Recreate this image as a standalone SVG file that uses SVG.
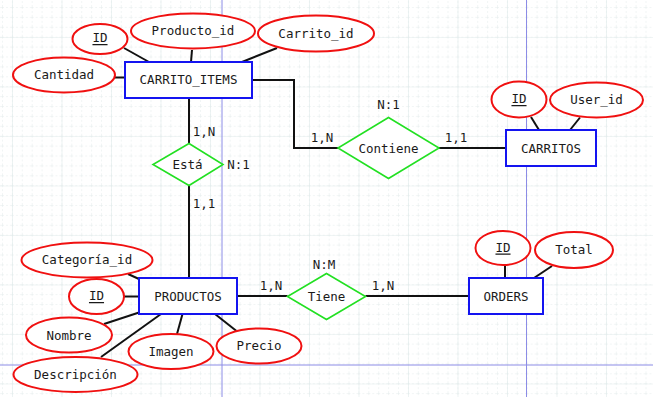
<svg xmlns="http://www.w3.org/2000/svg" width="653" height="397" viewBox="0 0 653 397">
  <defs>
    <pattern id="minor" x="2" y="7" width="9.9" height="9.9" patternUnits="userSpaceOnUse">
      <path d="M0 0V9.9M0 0H9.9" fill="none" stroke="#e4ecec" stroke-width="1" stroke-dasharray="2 2"/>
    </pattern>
    <pattern id="major" x="12" y="37" width="49.5" height="49.5" patternUnits="userSpaceOnUse">
      <path d="M0 0V49.5M0 0H49.5" fill="none" stroke="#e2ecec" stroke-width="1.2"/>
    </pattern>
  </defs>
  <style>
    text { font-family: "DejaVu Sans Mono", "Liberation Mono", monospace; font-size: 12.5px; fill: #1a1a1a; text-anchor: middle; dominant-baseline: central; }
    .ent { fill: #ffffff; stroke: #1414f0; stroke-width: 2; }
    .att { fill: #ffffff; stroke: #f01010; stroke-width: 2; }
    .rel { fill: #ffffff; stroke: #22e022; stroke-width: 1.6; }
    .edge { fill: none; stroke: #111111; stroke-width: 2; }
    .key { text-decoration: underline; }
    .page { stroke: #8c8ce6; stroke-width: 1; }
  </style>

  <!-- canvas grid -->
  <rect width="653" height="397" fill="#ffffff"/>
  <rect width="653" height="397" fill="url(#minor)"/>
  <rect width="653" height="397" fill="url(#major)"/>
  <line class="page" x1="222" y1="0" x2="222" y2="397"/>
  <line class="page" x1="526.5" y1="0" x2="526.5" y2="397"/>
  <line class="page" x1="0" y1="365" x2="653" y2="365"/>

  <!-- connectors -->
  <g id="connectors">
    <line class="edge" x1="124" y1="48" x2="149" y2="62"/>
    <line class="edge" x1="192" y1="50" x2="191" y2="62"/>
    <line class="edge" x1="277" y1="48" x2="242" y2="62"/>
    <line class="edge" x1="115" y1="77.5" x2="125" y2="77.5"/>
    <polyline class="edge" points="252,80 294,80 294,148 338,148"/>
    <line class="edge" x1="189" y1="98" x2="189" y2="143.5"/>
    <line class="edge" x1="189" y1="185.5" x2="189" y2="278"/>
    <line class="edge" x1="439" y1="148" x2="506" y2="148"/>
    <line class="edge" x1="531" y1="117" x2="539" y2="130"/>
    <line class="edge" x1="580" y1="117.5" x2="570" y2="130"/>
    <line class="edge" x1="128" y1="274" x2="139" y2="279"/>
    <line class="edge" x1="124" y1="296.5" x2="139" y2="296.5"/>
    <line class="edge" x1="104" y1="324" x2="139" y2="312.5"/>
    <line class="edge" x1="101" y1="357" x2="161" y2="314"/>
    <line class="edge" x1="177" y1="334" x2="182.5" y2="314"/>
    <line class="edge" x1="236.5" y1="331" x2="215" y2="314"/>
    <line class="edge" x1="237" y1="296" x2="287.5" y2="296"/>
    <line class="edge" x1="365.5" y1="296" x2="469" y2="296"/>
    <line class="edge" x1="505" y1="265" x2="505" y2="278"/>
    <line class="edge" x1="552" y1="266" x2="534" y2="278"/>
    <text x="204" y="131">1,N</text>
    <text x="238.5" y="164.5">N:1</text>
    <text x="204" y="203">1,1</text>
    <text x="322" y="137">1,N</text>
    <text x="388.5" y="104">N:1</text>
    <text x="456" y="137">1,1</text>
    <text x="271" y="285">1,N</text>
    <text x="324" y="264">N:M</text>
    <text x="383" y="285">1,N</text>
  </g>

  <!-- CARRITO_ITEMS -->
  <g id="carrito_items">
    <rect class="ent" x="125" y="62" width="127" height="36"/>
    <text x="188.5" y="79.5">CARRITO_ITEMS</text>
  </g>
  <g id="ci_id">
    <ellipse class="att" cx="100" cy="39" rx="27.5" ry="15"/>
    <text class="key" x="100" y="37.5">ID</text>
  </g>
  <g id="ci_producto_id">
    <ellipse class="att" cx="193" cy="31" rx="62" ry="17.5"/>
    <text x="193" y="30">Producto_id</text>
  </g>
  <g id="ci_carrito_id">
    <ellipse class="att" cx="316" cy="33.5" rx="58" ry="18"/>
    <text x="316" y="33.5">Carrito_id</text>
  </g>
  <g id="ci_cantidad">
    <ellipse class="att" cx="64" cy="75" rx="51" ry="17.5"/>
    <text x="64" y="74.5">Cantidad</text>
  </g>

  <!-- Está -->
  <g id="esta">
    <polygon class="rel" points="189,143.5 223,164.5 189,185.5 153,164.5"/>
    <text x="187.5" y="164">Está</text>
  </g>

  <!-- Contiene -->
  <g id="contiene">
    <polygon class="rel" points="388.5,117.5 439,148 388.5,178.5 338,148"/>
    <text x="388.5" y="148">Contiene</text>
  </g>

  <!-- CARRITOS -->
  <g id="carritos">
    <rect class="ent" x="506" y="130" width="90" height="36"/>
    <text x="551" y="148">CARRITOS</text>
  </g>
  <g id="c_id">
    <ellipse class="att" cx="519" cy="99.5" rx="27.5" ry="18"/>
    <text class="key" x="519" y="98.5">ID</text>
  </g>
  <g id="c_user_id">
    <ellipse class="att" cx="596.5" cy="100" rx="46.5" ry="17.5"/>
    <text x="596.5" y="99.5">User_id</text>
  </g>

  <!-- PRODUCTOS -->
  <g id="productos">
    <rect class="ent" x="139" y="278" width="98" height="36"/>
    <text x="188" y="296">PRODUCTOS</text>
  </g>
  <g id="p_categoria_id">
    <ellipse class="att" cx="87" cy="260" rx="65.5" ry="17.5"/>
    <text x="87" y="259">Categoría_id</text>
  </g>
  <g id="p_id">
    <ellipse class="att" cx="96.5" cy="296.5" rx="27.5" ry="17.5"/>
    <text class="key" x="96.5" y="295.5">ID</text>
  </g>
  <g id="p_nombre">
    <ellipse class="att" cx="69" cy="335" rx="43" ry="17.5"/>
    <text x="69" y="335">Nombre</text>
  </g>
  <g id="p_descripcion">
    <ellipse class="att" cx="75.5" cy="374.5" rx="62" ry="17.5"/>
    <text x="75.5" y="374">Descripción</text>
  </g>
  <g id="p_imagen">
    <ellipse class="att" cx="171" cy="351.5" rx="42.5" ry="17.5"/>
    <text x="171" y="351.5">Imagen</text>
  </g>
  <g id="p_precio">
    <ellipse class="att" cx="259" cy="346" rx="42.5" ry="17.5"/>
    <text x="259" y="345.5">Precio</text>
  </g>

  <!-- Tiene -->
  <g id="tiene">
    <polygon class="rel" points="326.5,273.5 365.5,296.5 326.5,319.5 287.5,296.5"/>
    <text x="326.5" y="296.5">Tiene</text>
  </g>

  <!-- ORDERS -->
  <g id="orders">
    <rect class="ent" x="469" y="278" width="74" height="36"/>
    <text x="506" y="296">ORDERS</text>
  </g>
  <g id="o_id">
    <ellipse class="att" cx="503" cy="248" rx="27.5" ry="17"/>
    <text class="key" x="503" y="247">ID</text>
  </g>
  <g id="o_total">
    <ellipse class="att" cx="574" cy="250" rx="39" ry="18"/>
    <text x="574" y="249.5">Total</text>
  </g>
</svg>
